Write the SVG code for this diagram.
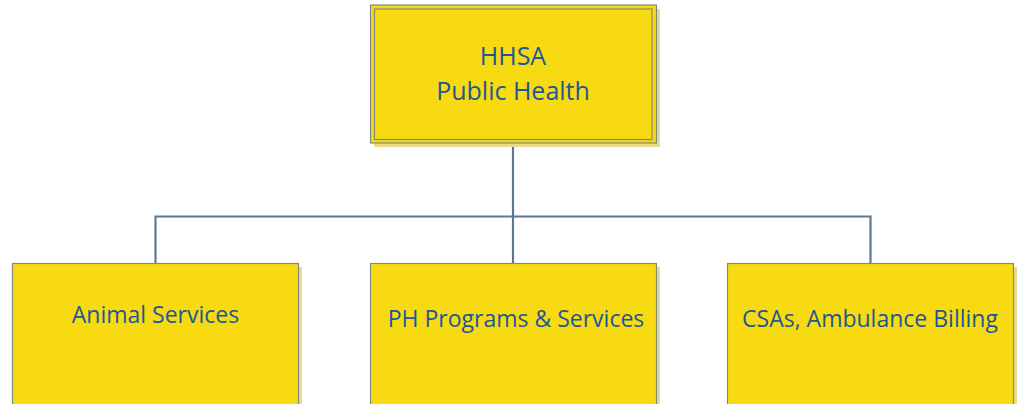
<svg xmlns="http://www.w3.org/2000/svg" width="1017" height="404" viewBox="0 0 1017 404">
  <style>
    .shadow { fill: #eadb8c; }
    .box { fill: #f8da10; stroke: #7d8a86; stroke-width: 1.2; }
    .inner { fill: none; stroke: #7d8a86; stroke-width: 1.2; }
    .label { font-family: "Open Sans", "Liberation Sans", sans-serif; font-size: 23px; fill: #1c5896; text-anchor: middle; }
    .title { font-size: 25px; }
    .link { fill: none; stroke: #5f7890; stroke-width: 2.2; }
  </style>

  <!-- connectors -->
  <g id="connectors">
    <path class="link" d="M513 143 V216.5"/>
    <path class="link" d="M155.5 263 V216.5 H870.5 V263"/>
    <path class="link" d="M513 216.5 V263"/>
  </g>

  <!-- root node -->
  <g id="node-hhsa">
    <rect class="shadow" x="374" y="9" width="286" height="138"/>
    <rect class="box" x="370.5" y="5" width="286" height="138"/>
    <rect class="inner" x="374.5" y="9" width="277.5" height="130.5"/>
    <text class="label title" x="513" y="65">HHSA</text>
    <text class="label title" x="513" y="100">Public Health</text>
  </g>

  <!-- child nodes -->
  <g id="node-animal">
    <rect class="shadow" x="16" y="267" width="286" height="150"/>
    <rect class="box" x="12.5" y="263.5" width="286" height="150"/>
    <text class="label" x="155.5" y="323">Animal Services</text>
  </g>

  <g id="node-ph-programs">
    <rect class="shadow" x="374" y="267" width="286" height="150"/>
    <rect class="box" x="370.5" y="263.5" width="286" height="150"/>
    <text class="label" x="516" y="327">PH Programs &amp; Services</text>
  </g>

  <g id="node-csas">
    <rect class="shadow" x="731" y="267" width="286" height="150"/>
    <rect class="box" x="727.5" y="263.5" width="286" height="150"/>
    <text class="label" x="870" y="327">CSAs, Ambulance Billing</text>
  </g>
</svg>
